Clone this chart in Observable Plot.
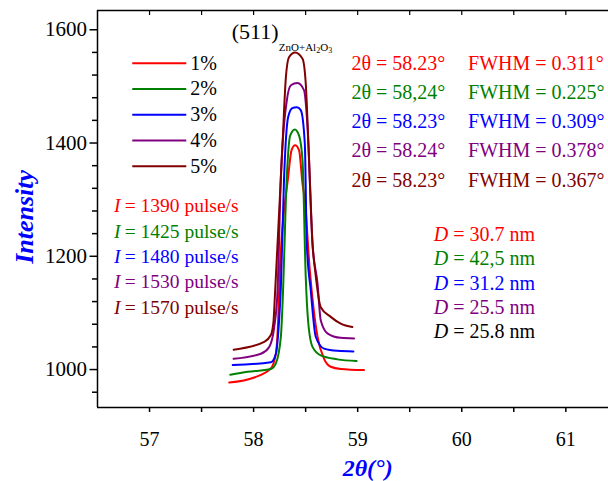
<!DOCTYPE html>
<html><head><meta charset="utf-8">
<script src="https://cdn.jsdelivr.net/npm/d3@7"></script>
<script src="https://cdn.jsdelivr.net/npm/@observablehq/plot@0.6"></script>
<style>body{margin:0;background:#fff} svg{display:block}</style>
</head><body><div id="chart"></div>
<script>
// ---- data ----
const series = ["1%", "2%", "3%", "4%", "5%"];
const colors = ["#ff0000", "#008000", "#0000ff", "#800080", "#800000"];

const theta1 = [57.766, 58.006, 58.166, 58.214, 58.236, 58.252, 58.332, 58.364, 58.399, 58.437, 58.470, 58.492, 58.540, 58.578, 58.614, 58.677, 58.741, 58.837, 59.060];
const int1   = [977, 986, 1002, 1028, 1087, 1175, 1340, 1387, 1396, 1387, 1328, 1299, 1175, 1105, 1058, 1019, 1005, 1001, 999];

const theta2 = [57.776, 57.942, 58.166, 58.214, 58.262, 58.278, 58.319, 58.351, 58.396, 58.437, 58.470, 58.501, 58.523, 58.566, 58.645, 58.805, 58.990];
const int2   = [991, 996, 1001, 1011, 1058, 1116, 1340, 1413, 1424, 1413, 1369, 1163, 1087, 1040, 1025, 1018, 1015];

const theta3 = [57.799, 58.166, 58.214, 58.245, 58.262, 58.293, 58.332, 58.374, 58.415, 58.453, 58.492, 58.511, 58.549, 58.597, 58.677, 58.805, 58.959];
const int3   = [1008, 1013, 1028, 1087, 1146, 1340, 1446, 1462, 1463, 1458, 1399, 1222, 1140, 1058, 1037, 1033, 1032];

const theta4 = [57.808, 58.070, 58.150, 58.198, 58.230, 58.262, 58.319, 58.358, 58.422, 58.485, 58.518, 58.566, 58.614, 58.645, 58.709, 58.837, 58.965];
const int4   = [1019, 1028, 1040, 1075, 1140, 1340, 1475, 1502, 1506, 1493, 1428, 1222, 1152, 1087, 1064, 1056, 1055];

const theta5 = [57.808, 58.102, 58.166, 58.192, 58.204, 58.230, 58.278, 58.310, 58.341, 58.399, 58.470, 58.501, 58.533, 58.566, 58.591, 58.645, 58.741, 58.837, 58.949];
const int5   = [1035, 1049, 1061, 1087, 1128, 1222, 1399, 1516, 1552, 1560, 1549, 1505, 1369, 1222, 1175, 1110, 1093, 1081, 1075];

const thetaAll = [theta1, theta2, theta3, theta4, theta5];
const intAll = [int1, int2, int3, int4, int5];

const xMajor = [57, 58, 59, 60, 61];
const xMinor = [57.5, 58.5, 59.5, 60.5];
const yMajor = [1000, 1200, 1400, 1600];
const yMinor = [960, 1040, 1080, 1120, 1160, 1240, 1280, 1320, 1360, 1440, 1480, 1520, 1560];

const peakPos = ["58.23°", "58,24°", "58.23°", "58.24°", "58.23°"];
const fwhm = ["0.311°", "0.225°", "0.309°", "0.378°", "0.367°"];
const intensity = ["1390", "1425", "1480", "1530", "1570"];
const crystallite = ["30.7", "42,5", "31.2", "25.5", "25.8"];
const dColors = ["#ff0000", "#008000", "#0000ff", "#800080", "#000000"];

// ---- build table ----
const rows = [];
series.forEach((s, i) => thetaAll[i].forEach((t, j) => rows.push({s, theta: t, I: intAll[i][j]})));

const xDom = [56.5, 61.41], yDom = [933, 1634];
const serif = "Liberation Serif, Times New Roman, serif";

// annotation row positions (data units)
const legY = series.map((_, i) => 1541 - i * 45.5);
const twoY = series.map((_, i) => 1541 - i * 51.7);
const iY = series.map((_, i) => 1288.7 - i * 44.8);
const dY = series.map((_, i) => 1238.8 - i * 43.1);
const idx = series.map((_, i) => i);

const plot = Plot.plot({
  width: 608, height: 481,
  marginLeft: 97, marginRight: 0, marginTop: 10, marginBottom: 74,
  x: {domain: xDom},
  y: {domain: yDom},
  color: {domain: series, range: colors},
  style: {fontFamily: serif, background: "white", color: "black"},
  marks: [
    Plot.ruleX([xDom[0]], {y1: yDom[0], y2: yDom[1], strokeWidth: 1.5}),
    Plot.ruleY([yDom[0]], {strokeWidth: 1.5}),
    Plot.ruleY([yDom[1]], {strokeWidth: 1.5}),
    Plot.axisX(xMajor, {anchor: "bottom", tickSize: 5, tickPadding: 19, fontSize: 20, strokeWidth: 1.5, tickFormat: d => String(d), label: null}),
    Plot.axisX(xMinor, {anchor: "bottom", tickSize: 5, tickFormat: () => "", strokeWidth: 1.5, label: null}),
    Plot.axisX([...xMajor, ...xMinor], {anchor: "top", tickSize: 4, dy: 4, tickFormat: () => "", strokeWidth: 1.2, label: null}),
    Plot.axisY(yMajor, {anchor: "left", tickSize: 7.5, tickPadding: 3, fontSize: 21, strokeWidth: 1.5, tickFormat: d => String(d), label: null}),
    Plot.axisY(yMinor, {anchor: "left", tickSize: 5, tickFormat: () => "", strokeWidth: 1.5, label: null}),
    Plot.line(rows, {x: "theta", y: "I", z: "s", stroke: "s", strokeWidth: 2, curve: "monotone-x"}),
    // legend
    Plot.link(idx, {x1: () => 56.834, x2: () => 57.353, y1: i => legY[i], y2: i => legY[i], stroke: i => series[i], strokeWidth: 2}),
    Plot.text(idx, {x: () => 57.392, y: i => legY[i], text: i => series[i], textAnchor: "start", fontSize: 20, fill: "black"}),
    // peak label
    Plot.text(["(511)"], {x: () => 57.789, y: () => 1595.8, textAnchor: "start", fontSize: 22, fill: "black"}),
    Plot.text(["ZnO+Al"], {x: () => 58.242, y: () => 1569, textAnchor: "start", fontSize: 11, fill: "black"}),
    Plot.text(["2"], {x: () => 58.602, y: () => 1563, textAnchor: "start", fontSize: 8, fill: "black"}),
    Plot.text(["O"], {x: () => 58.640, y: () => 1569, textAnchor: "start", fontSize: 11, fill: "black"}),
    Plot.text(["3"], {x: () => 58.717, y: () => 1563, textAnchor: "start", fontSize: 8, fill: "black"}),
    // 2θ and FWHM
    Plot.text(idx, {x: () => 58.940, y: i => twoY[i], text: i => "2θ = " + peakPos[i], textAnchor: "start", fontSize: 20, fill: i => colors[i]}),
    Plot.text(idx, {x: () => 60.061, y: i => twoY[i], text: i => "FWHM = " + fwhm[i], textAnchor: "start", fontSize: 20, fill: i => colors[i]}),
    // intensities
    Plot.text(idx, {x: () => 56.658, y: i => iY[i], text: () => "I", fontStyle: "italic", textAnchor: "start", fontSize: 19.5, fill: i => colors[i]}),
    Plot.text(idx, {x: () => 56.761, y: i => iY[i], text: i => "= " + intensity[i] + " pulse/s", textAnchor: "start", fontSize: 19.5, fill: i => colors[i]}),
    // crystallite sizes
    Plot.text(idx, {x: () => 59.732, y: i => dY[i], text: () => "D", fontStyle: "italic", textAnchor: "start", fontSize: 20, fill: i => dColors[i]}),
    Plot.text(idx, {x: () => 59.918, y: i => dY[i], text: i => "= " + crystallite[i] + " nm", textAnchor: "start", fontSize: 20, fill: i => dColors[i]}),
    // axis labels
    Plot.text(["Intensity"], {x: () => 55.80, y: () => 1269.6, rotate: -90, fontSize: 26, fontWeight: "bold", fontStyle: "italic", fill: "#0000ff"}),
    Plot.text(["2θ(°)"], {x: () => 59.096, y: () => 826, fontSize: 24, fontWeight: "bold", fontStyle: "italic", fill: "#0000ff"})
  ]
});
document.getElementById("chart").appendChild(plot);
</script>
</body></html>
